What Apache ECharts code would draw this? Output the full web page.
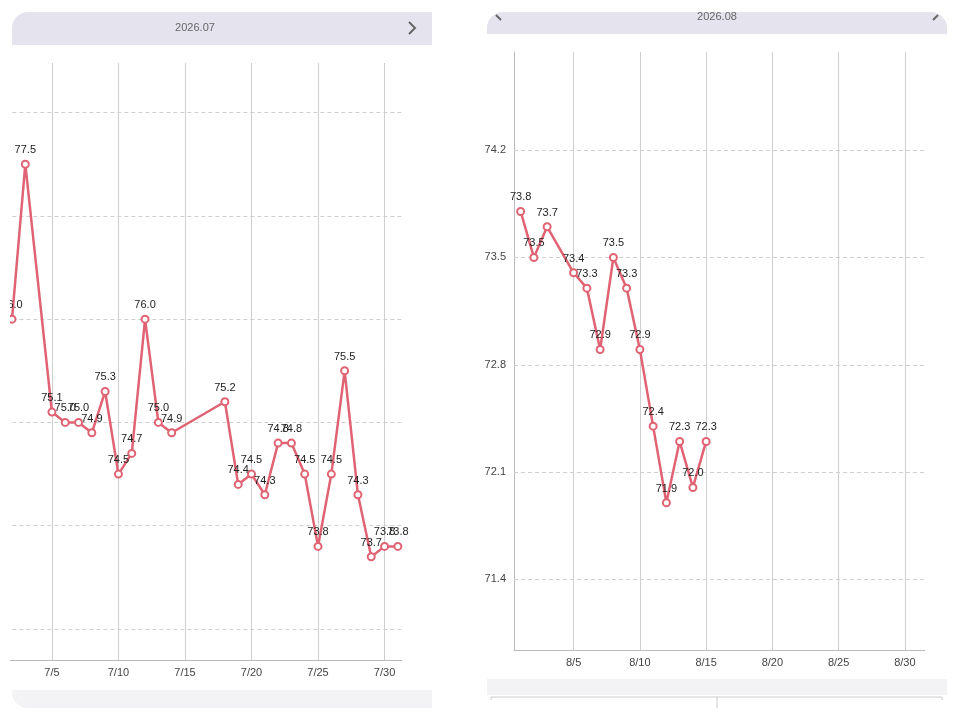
<!DOCTYPE html>
<html><head><meta charset="utf-8">
<script src="https://cdn.jsdelivr.net/npm/echarts@6/dist/echarts.min.js"></script>
<style>html,body{margin:0;padding:0;background:#fff}#c{width:960px;height:720px}</style>
</head><body><div id="c"></div>
<script>
const julDays = [2,3,5,6,7,8,9,10,11,12,13,14,18,19,20,21,22,23,24,25,26,27,28,29,30,31];
const julVals = [76.0,77.5,75.1,75.0,75.0,74.9,75.3,74.5,74.7,76.0,75.0,74.9,75.2,74.4,74.5,74.3,74.8,74.8,74.5,73.8,74.5,75.5,74.3,73.7,73.8,73.8];
const augDays = [1,2,3,5,6,7,8,9,10,11,12,13,14,15];
const augVals = [73.8,73.5,73.7,73.4,73.3,72.9,73.5,73.3,72.9,72.4,71.9,72.3,72.0,72.3];
const julYTicks = [73,74,75,76,77,78];
const augYTicks = [71.4,72.1,72.8,73.5,74.2];
const xTicks = [5,10,15,20,25,30];
const julTitle = '2026.07', augTitle = '2026.08';

const chart = echarts.init(document.getElementById('c'));
const red = '#e06374';
function series(idx, days, vals, month, yTicks, showYLabels) {
  return {
    type: 'line', xAxisIndex: idx, yAxisIndex: idx,
    data: days.map((d, i) => [d, vals[i]]),
    symbol: 'emptyCircle', symbolSize: 7,
    lineStyle: {color: red, width: 2.5}, itemStyle: {color: red, borderWidth: 2},
    label: {show: true, position: 'top', fontSize: 11, color: '#222', distance: 4, formatter: p => p.value[1].toFixed(1)},
    z: 5,
    markLine: {
      silent: true, symbol: 'none', animation: false,
      data: yTicks.map(v => ({yAxis: v, lineStyle: {type: [4, 3], color: '#cfcfcf', width: 1},
        label: {show: showYLabels, position: 'start', formatter: String(v), color: '#444', fontSize: 11, distance: 8}}))
        .concat(xTicks.map(v => ({xAxis: v, lineStyle: {type: 'solid', color: '#cfcfcf', width: 1},
          label: {show: true, position: 'start', formatter: month + '/' + v, color: '#444', fontSize: 11, distance: 7}})))
    }
  };
}
chart.setOption({
  animation: false,
  grid: [
    {left: 5.35, top: 63, width: 396.5, height: 597},
    {left: 514, top: 52, width: 410.75, height: 598}
  ],
  xAxis: [
    {gridIndex: 0, type: 'value', min: 1.5, max: 31.3, splitLine: {show: false}, axisTick: {show: false}, axisLabel: {show: false}, axisLine: {lineStyle: {color: '#bbb'}}},
    {gridIndex: 1, type: 'value', min: 0.5, max: 31.5, splitLine: {show: false}, axisTick: {show: false}, axisLabel: {show: false}, axisLine: {lineStyle: {color: '#bbb'}}}
  ],
  yAxis: [
    {gridIndex: 0, type: 'value', min: 72.7, max: 78.48, splitLine: {show: false}, axisLabel: {show: false}, axisTick: {show: false}, axisLine: {show: false}},
    {gridIndex: 1, type: 'value', min: 70.94, max: 74.84, splitLine: {show: false}, axisLabel: {show: false}, axisTick: {show: false}, axisLine: {show: true, lineStyle: {color: '#bbb'}}}
  ],
  series: [series(0, julDays, julVals, 7, julYTicks, false), series(1, augDays, augVals, 8, augYTicks, true)],
  graphic: [
    {type: 'rect', left: 0, top: 0, z: 100, shape: {x: 0, y: 0, width: 10, height: 720}, style: {fill: '#fff'}},
    {type: 'rect', z: 100, shape: {x: 12, y: 12, width: 420, height: 33, r: [16, 0, 0, 0]}, style: {fill: '#e5e3ee'}},
    {type: 'text', z: 101, x: 195, y: 28, style: {text: julTitle, fill: '#666', fontSize: 11, align: 'center', verticalAlign: 'middle'}},
    {type: 'polyline', z: 101, shape: {points: [[409, 22], [415, 28], [409, 34]]}, style: {stroke: '#666', lineWidth: 2, fill: null}},
    {type: 'rect', z: 100, shape: {x: 12, y: 690, width: 420, height: 18, r: [0, 0, 0, 16]}, style: {fill: '#f3f3f5'}},
    {type: 'rect', z: 100, shape: {x: 487, y: 12, width: 460, height: 22, r: [16, 16, 0, 0]}, style: {fill: '#e5e3ee'}},
    {type: 'text', z: 101, x: 717, y: 17, style: {text: augTitle, fill: '#666', fontSize: 11, align: 'center', verticalAlign: 'middle'}},
    {type: 'line', z: 101, shape: {x1: 496, y1: 15, x2: 501, y2: 20}, style: {stroke: '#666', lineWidth: 2}},
    {type: 'line', z: 101, shape: {x1: 933, y1: 20, x2: 938, y2: 15}, style: {stroke: '#666', lineWidth: 2}},
    {type: 'rect', z: 100, shape: {x: 487, y: 679, width: 460, height: 16}, style: {fill: '#f3f3f5'}},
    {type: 'polyline', z: 101, shape: {points: [[491, 700], [491, 697], [942, 697], [942, 700]]}, style: {stroke: '#ccc', lineWidth: 1, fill: null}},
    {type: 'line', z: 101, shape: {x1: 717, y1: 697, x2: 717, y2: 708}, style: {stroke: '#ccc', lineWidth: 1}}
  ]
});
</script></body></html>
